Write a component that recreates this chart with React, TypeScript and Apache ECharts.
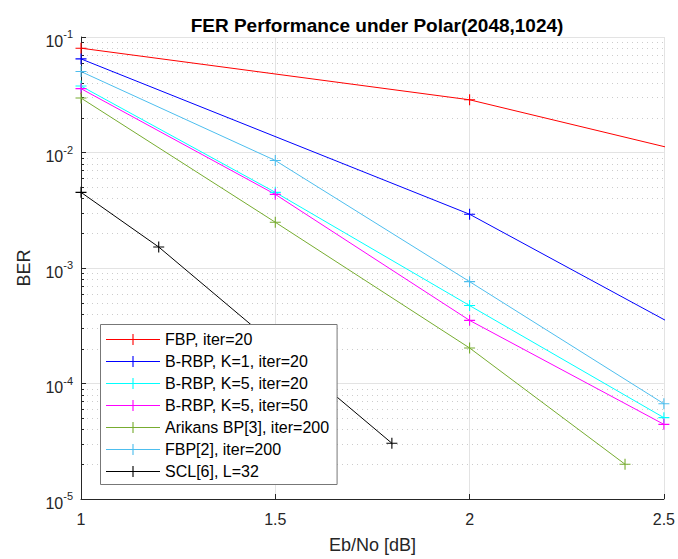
import React, { useEffect, useRef } from "react";
import * as echarts from "echarts";

// ---- data ----
const seriesNames = [
  "FBP, iter=20",
  "B-RBP, K=1, iter=20",
  "B-RBP, K=5, iter=20",
  "B-RBP, K=5, iter=50",
  "Arikans BP[3], iter=200",
  "FBP[2], iter=200",
  "SCL[6], L=32",
];
const seriesColors = ["#FF0000", "#0000FF", "#00FFFF", "#FF00FF", "#77AC30", "#4DBEEE", "#000000"];

const xFBP20 = [1, 2, 3];
const yFBP20 = [0.08, 0.0286, 0.00443];
const xRBP1 = [1, 2, 3];
const yRBP1 = [0.0646, 0.00292, 4.39e-5];
const xRBP5a = [1, 1.5, 2, 2.5];
const yRBP5a = [0.0376, 0.00452, 4.73e-4, 5.06e-5];
const xRBP5b = [1, 1.5, 2, 2.5];
const yRBP5b = [0.0357, 0.00434, 3.52e-4, 4.43e-5];
const xArikan = [1, 1.5, 2, 2.4];
const yArikan = [0.0296, 0.00249, 2.03e-4, 2.0e-5];
const xFBP200 = [1, 1.5, 2, 2.5];
const yFBP200 = [0.0502, 0.00853, 7.62e-4, 6.68e-5];
const xSCL = [1, 1.2, 1.8];
const ySCL = [0.00452, 0.00152, 3.04e-5];

const xList = [xFBP20, xRBP1, xRBP5a, xRBP5b, xArikan, xFBP200, xSCL];
const yList = [yFBP20, yRBP1, yRBP5a, yRBP5b, yArikan, yFBP200, ySCL];

const xMin = 1;
const xMax = 2.5;
const xInterval = 0.5;
const yMin = 1e-5;
const yMax = 1e-1;
const minorMultipliers = [2, 3, 4, 5, 6, 7, 8, 9];
const minorDecades = [-5, -4, -3, -2];

const FONT = "'Liberation Sans', Arial, Helvetica, sans-serif";
const PLUS = "path://M0,4.5H10V5.5H0Z M4.5,0H5.5V10H4.5Z";

export default function App() {
  const ref = useRef<HTMLDivElement>(null);
  useEffect(() => {
    if (!ref.current) return;
    const chart = echarts.init(ref.current, undefined, { renderer: "svg" });
    const minorVals: number[][] = [];
    minorDecades.forEach((e) =>
      minorMultipliers.forEach((m) => minorVals.push([xMin, m * Math.pow(10, e)]))
    );
    const lineSeries = seriesNames.map((name, i) => ({
      name,
      type: "line",
      data: xList[i].map((x, j) => [x, yList[i][j]]),
      symbol: PLUS,
      symbolSize: 11,
      showAllSymbol: true,
      clip: true,
      z: 3,
      lineStyle: { color: seriesColors[i], width: 1 },
      itemStyle: { color: seriesColors[i] },
      emphasis: { disabled: true },
    }));
    chart.setOption({
      animation: false,
      backgroundColor: "#ffffff",
      title: {
        text: "FER Performance under Polar(2048,1024)",
        left: 372,
        textAlign: "center",
        top: 11,
        textStyle: { fontFamily: FONT, fontSize: 19, fontWeight: "bold", color: "#000" },
      },
      legend: {
        data: seriesNames,
        orient: "vertical",
        left: 100.5,
        top: 324.5,
        backgroundColor: "#ffffff",
        borderColor: "#777777",
        borderWidth: 1,
        borderRadius: 0,
        padding: [7, 8, 5, 5],
        itemWidth: 54,
        itemHeight: 14,
        itemGap: 6,
        lineStyle: { width: 1 },
        textStyle: { fontFamily: FONT, fontSize: 16, lineHeight: 16, color: "#000" },
        selectedMode: false,
      },
      grid: { left: 81, right: 12, top: 37, bottom: 58, containLabel: false },
      xAxis: {
        type: "value",
        min: xMin,
        max: xMax,
        interval: xInterval,
        name: "Eb/No [dB]",
        nameLocation: "middle",
        nameGap: 37,
        nameTextStyle: { fontFamily: FONT, fontSize: 18, color: "#262626" },
        axisLine: { show: true, lineStyle: { color: "#262626", width: 1 } },
        axisTick: { show: true, inside: true, length: 5, lineStyle: { color: "#262626" } },
        axisLabel: {
          fontFamily: FONT,
          fontSize: 16,
          color: "#262626",
          margin: 12,
          formatter: (v: number) => String(v),
        },
        splitLine: { show: true, lineStyle: { color: "#e3e3e3", width: 1 } },
      },
      yAxis: {
        type: "log",
        logBase: 10,
        min: yMin,
        max: yMax,
        name: "BER",
        nameLocation: "middle",
        nameGap: 48,
        nameTextStyle: { fontFamily: FONT, fontSize: 18, color: "#262626" },
        axisLine: { show: true, lineStyle: { color: "#262626", width: 1 } },
        axisTick: { show: true, inside: true, length: 5, lineStyle: { color: "#262626" } },
        axisLabel: {
          margin: 8,
          formatter: (v: number) => `{b|10}{s|${Math.round(Math.log10(v))}}`,
          rich: {
            b: { fontFamily: FONT, fontSize: 16, color: "#262626", padding: [8, 0, 0, 0] },
            s: { fontFamily: FONT, fontSize: 11, color: "#262626", padding: [0, 0, 6, 0] },
          },
        },
        splitLine: { show: true, lineStyle: { color: "#e3e3e3", width: 1 } },
      },
      series: [
        {
          type: "custom",
          silent: true,
          z: 1,
          data: minorVals,
          renderItem: (params: any, api: any) => {
            const v = api.value(1);
            const p0 = api.coord([xMin, v]);
            const p1 = api.coord([xMax, v]);
            const y = Math.round(p0[1]) + 0.5;
            return {
              type: "group",
              children: [
                {
                  type: "line",
                  shape: { x1: p0[0] + 1, y1: y, x2: p1[0], y2: y },
                  style: { stroke: "#cccccc", lineWidth: 1, lineDash: [1, 4] },
                },
                {
                  type: "line",
                  shape: { x1: p0[0], y1: y, x2: p0[0] + 3, y2: y },
                  style: { stroke: "#262626", lineWidth: 1 },
                },
              ],
            };
          },
        },
        ...lineSeries,
      ],
    });
    return () => chart.dispose();
  }, []);
  return (
    <div
      ref={ref}
      style={{ position: "absolute", left: 0, top: 0, width: 678, height: 559, background: "#fff" }}
    />
  );
}
